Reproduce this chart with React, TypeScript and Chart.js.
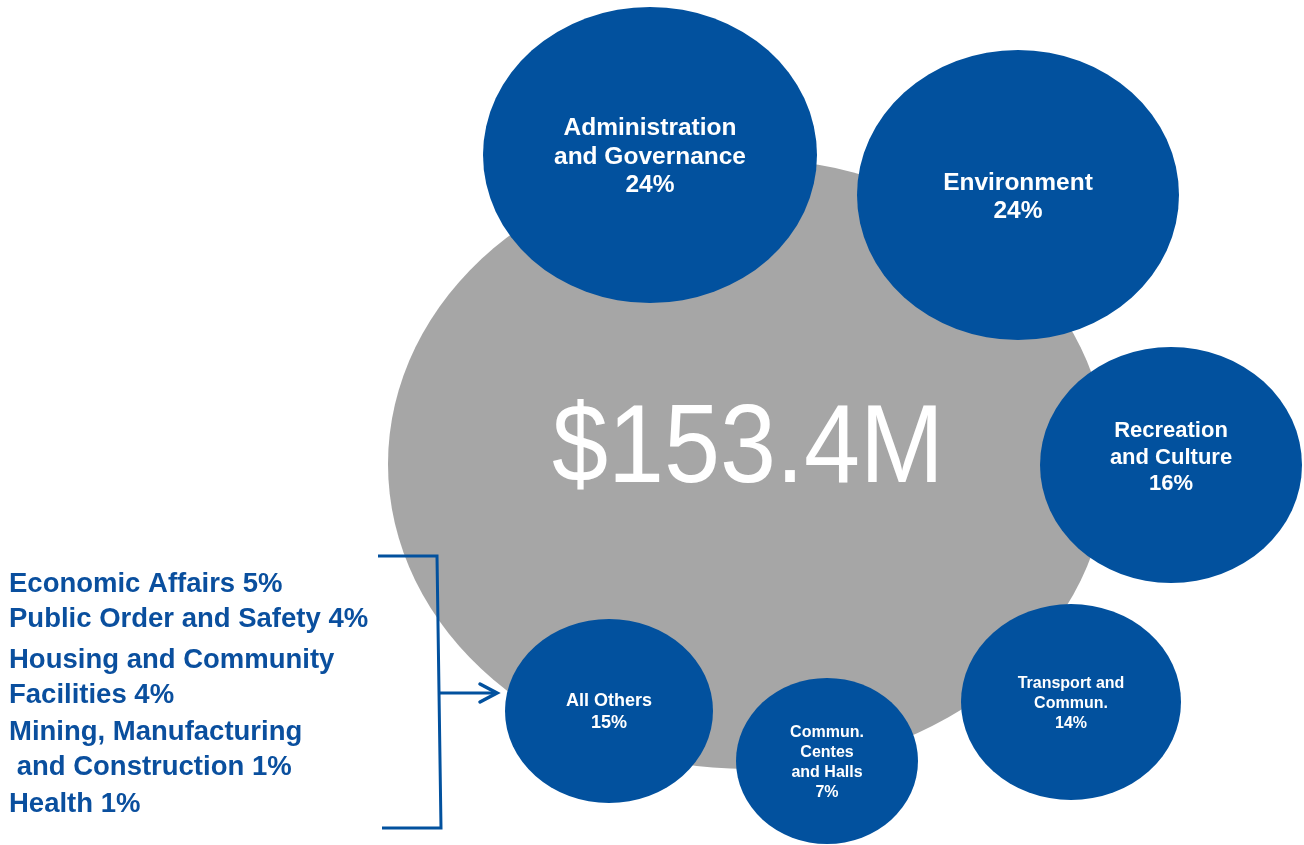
import React, { useEffect, useRef } from 'react';
import { Chart, registerables } from 'chart.js';

Chart.register(...registerables);

// ---- data ----
const totalLabel = '$153.4M';
const categories = [
  'Administration and Governance',
  'Environment',
  'Recreation and Culture',
  'Transport and Commun.',
  'Commun. Centes and Halls',
  'All Others',
];
const shares = [24, 24, 16, 14, 7, 15];
const labelLines = [
  ['Administration', 'and Governance'],
  ['Environment'],
  ['Recreation', 'and Culture'],
  ['Transport and', 'Commun.'],
  ['Commun.', 'Centes', 'and Halls'],
  ['All Others'],
];
const otherLines = [
  'Economic Affairs 5%',
  'Public Order and Safety 4%',
  'Housing and Community',
  'Facilities 4%',
  'Mining, Manufacturing',
  ' and Construction 1%',
  'Health 1%',
];

// ---- layout (bubble positions / sizes in layout units) ----
const bubbleX = [650, 1018, 1171, 1071, 827, 609];
const bubbleY = [155, 195, 465, 702, 761, 711];
const bubbleRx = [167, 161, 131, 110, 91, 104];
const bubbleRy = [148, 145, 118, 98, 83, 92];
const totalX = 748;
const totalY = 464;
const totalRx = 360;
const totalRy = 305;

// ---- styles ----
const BLUE = '#02519E';
const TEXT_BLUE = '#0A4F9E';
const GRAY = '#A6A6A6';
const FONT = '"Liberation Sans", Arial, Helvetica, sans-serif';
const labelFont = [24.5, 24.5, 22, 16, 16, 18];
const labelLineH = [28.5, 28, 26.5, 20, 20, 22];
const labelDy = [0, 0, -9, 0, 0, 0];
const totalFont = 112;
const totalMaxW = 392;
const totalDy = -22;
const otherX = 9;
const otherBaselines = [592, 627, 668, 703, 740, 775, 812];
const otherFont = 27.5;

const W = 1304;
const H = 845;

const bubblePlugin = {
  id: 'ellipseBubbles',
  beforeDatasetDraw(chart: any, args: any) {
    const { ctx, scales } = chart;
    const ds = chart.data.datasets[args.index];
    ctx.save();
    args.meta.data.forEach((el: any, i: number) => {
      const raw = ds.data[i];
      const rx = Math.abs(scales.x.getPixelForValue(raw.x + raw.rx) - el.x);
      const ry = Math.abs(scales.y.getPixelForValue(raw.y + raw.ry) - el.y);
      ctx.beginPath();
      ctx.ellipse(el.x, el.y, rx, ry, 0, 0, Math.PI * 2);
      ctx.fillStyle = ds.backgroundColor;
      ctx.fill();
    });
    ctx.restore();
    return false;
  },
  afterDatasetsDraw(chart: any) {
    const { ctx, scales } = chart;
    ctx.save();
    // total label
    const gray = chart.getDatasetMeta(1).data[0];
    ctx.fillStyle = '#FFFFFF';
    ctx.textAlign = 'center';
    ctx.textBaseline = 'alphabetic';
    ctx.font = `${totalFont}px ${FONT}`;
    const capMidT = gray.y + totalDy;
    ctx.fillText(totalLabel, gray.x, capMidT + 0.358 * totalFont, totalMaxW);

    // bubble labels
    const meta = chart.getDatasetMeta(0);
    meta.data.forEach((el: any, i: number) => {
      const lines = [...labelLines[i], `${shares[i]}%`];
      const fs = labelFont[i];
      const lh = labelLineH[i];
      ctx.font = `bold ${fs}px ${FONT}`;
      ctx.fillStyle = '#FFFFFF';
      const n = lines.length;
      lines.forEach((t, k) => {
        const mid = el.y + labelDy[i] + (k - (n - 1) / 2) * lh;
        ctx.fillText(t, el.x, mid + 0.358 * fs);
      });
    });

    // "all others" breakdown
    ctx.textAlign = 'left';
    ctx.fillStyle = TEXT_BLUE;
    ctx.font = `bold ${otherFont}px ${FONT}`;
    otherLines.forEach((t, k) => ctx.fillText(t, otherX, otherBaselines[k]));

    // bracket + arrow pointing at "All Others" bubble
    const idx = categories.indexOf('All Others');
    const target = meta.data[idx];
    const raw = chart.data.datasets[0].data[idx];
    const left = target.x - Math.abs(scales.x.getPixelForValue(raw.x + raw.rx) - target.x);
    const tipX = left - 8;
    const topY = 556;
    const botY = 828;
    const arrowY = 693;
    ctx.strokeStyle = BLUE;
    ctx.lineWidth = 3;
    ctx.lineJoin = 'miter';
    ctx.beginPath();
    ctx.moveTo(378, topY);
    ctx.lineTo(437, topY);
    ctx.lineTo(441, botY);
    ctx.lineTo(382, botY);
    ctx.stroke();
    ctx.beginPath();
    ctx.moveTo(439, arrowY);
    ctx.lineTo(tipX - 1, arrowY);
    ctx.stroke();
    ctx.lineWidth = 3.5;
    ctx.lineCap = 'round';
    ctx.beginPath();
    ctx.moveTo(tipX - 17, arrowY - 9);
    ctx.lineTo(tipX, arrowY);
    ctx.lineTo(tipX - 17, arrowY + 9);
    ctx.stroke();
    ctx.restore();
  },
};

export default function App() {
  const ref = useRef<HTMLCanvasElement | null>(null);
  useEffect(() => {
    if (!ref.current) return;
    const chart = new Chart(ref.current, {
      type: 'bubble',
      data: {
        datasets: [
          {
            label: 'Categories',
            data: categories.map((c, i) => ({
              x: bubbleX[i],
              y: bubbleY[i],
              r: 1,
              rx: bubbleRx[i],
              ry: bubbleRy[i],
              name: c,
            })) as any,
            backgroundColor: BLUE,
            clip: false as any,
          },
          {
            label: 'Total',
            data: [{ x: totalX, y: totalY, r: 1, rx: totalRx, ry: totalRy }] as any,
            backgroundColor: GRAY,
            clip: false as any,
          },
        ],
      },
      options: {
        responsive: false,
        animation: false,
        events: [],
        layout: { padding: 0, autoPadding: false } as any,
        plugins: { legend: { display: false }, tooltip: { enabled: false } },
        scales: {
          x: { type: 'linear', min: 0, max: W, display: false },
          y: { type: 'linear', min: 0, max: H, reverse: true, display: false },
        },
      },
      plugins: [bubblePlugin],
    });
    return () => chart.destroy();
  }, []);
  return (
    <div style={{ position: 'absolute', left: 0, top: 0, width: W, height: H, background: '#fff' }}>
      <canvas ref={ref} width={W} height={H} style={{ display: 'block' }} />
    </div>
  );
}
